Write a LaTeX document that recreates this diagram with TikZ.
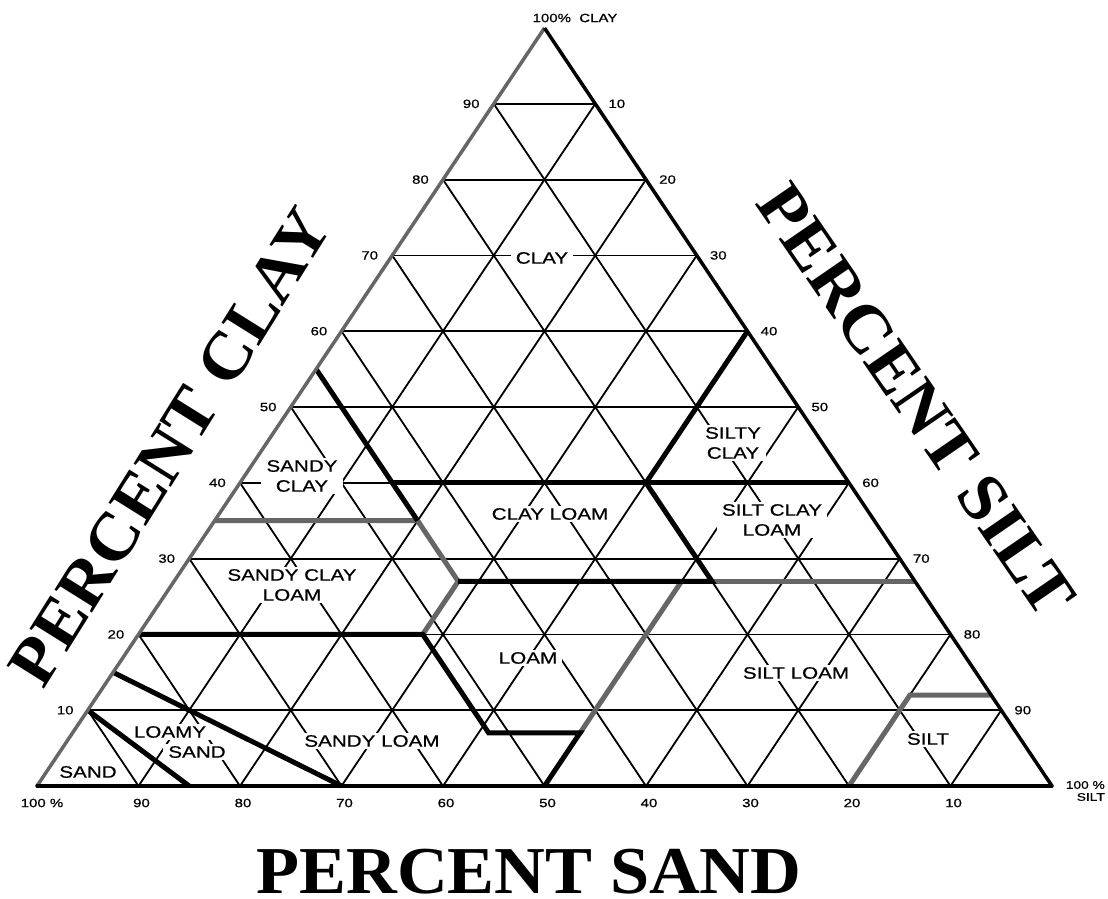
\documentclass[tikz,border=0pt]{standalone}
\usepackage{fontspec}
\newfontfamily\labfont{Liberation Sans}[FakeStretch=1.25,FakeBold=0.6]
\newfontfamily\titlefont{Liberation Serif}[FakeStretch=1.05]
\definecolor{bgray}{gray}{0.4}
\tikzset{
  gridline/.style={line width=1.8pt, black},
  bnd/.style={line width=5pt, black},
  gbnd/.style={line width=5pt, bgray},
  region/.style={font=\labfont\fontsize{16.5}{20}\selectfont, fill=white, inner xsep=5pt, inner ysep=2pt, align=center},
  num/.style={font=\labfont\fontsize{12}{14}\selectfont, inner sep=0pt},
  tlabel/.style={font=\titlefont\bfseries\fontsize{67}{70}\selectfont, inner sep=0pt},
  tern/.style={shift={(37,786)}, x={(10.15pt,0pt)}, y={(5.075pt,7.58pt)}}
}
\begin{document}
\begin{tikzpicture}[x=1pt, y=-1pt]
\fill[white] (0,0) rectangle (1108,899);
\useasboundingbox (0,0) rectangle (1108,899);
% grid (silt t, clay c)
\begin{scope}[tern]
  \foreach \c in {10,20,...,90} \draw[gridline] (0,\c) -- ({100-\c},\c);
  \foreach \s in {10,20,...,90} \draw[gridline] ({100-\s},0) -- (0,{100-\s});
  \foreach \t in {10,20,...,90} \draw[gridline] (\t,0) -- (\t,{100-\t});
\end{scope}
% axis numbers
\foreach \c in {10,20,...,90}
  \node[num, anchor=east] (cl\c) at ({37+\c*5.075-14},{786-\c*7.58}) {\c};
\foreach \c [evaluate=\c as \sv using int(100-\c)] in {10,20,...,90}
  \node[num, anchor=west] (si\c) at ({37+(100-\c/2)*10.15+13},{786-\c*7.58}) {\sv};
\foreach \s in {90,80,...,10}
  \node[num] (sa\s) at ({37+(100-\s)*10.15+3},803) {\s};
\node[num] (sa100) at (42,803) {100 \%};
\node[num] (topclay) at (575,18) {100\%\ \ CLAY};
\node[num, anchor=east, align=right, font=\labfont\fontsize{11}{12}\selectfont] (rsilt) at (1105,791) {100 \%\\SILT};
% region labels
\node[region] (rclay) at (542,258) {CLAY};
\node[region] (rsiltyclay) at (733,443) {SILTY\\CLAY};
\node[region] (rsandyclay) at (302,476) {SANDY\\CLAY};
\node[region] (rclayloam) at (550,514) {CLAY LOAM};
\node[region] (rsiltclayloam) at (772,520) {SILT CLAY\\LOAM};
\node[region] (rscl) at (292,585) {SANDY CLAY\\LOAM};
\node[region] (rloam) at (528,658) {LOAM};
\node[region] (rsiltloam) at (796,673) {SILT LOAM};
\node[region] (rloamysand) at (197,752) {SAND};
\node[region] (rloamy) at (170,732) {LOAMY};
\node[region] (rsandyloam) at (372,741) {SANDY LOAM};
\node[region] (rsand) at (88,772) {SAND};
\node[region] (rsilt) at (928,739) {SILT};
% boundaries
\begin{scope}[tern]
  \draw[bnd] (0,10) -- (15,0);
  \draw[bnd] (0,15) -- (30,0);
  \draw[gbnd] (0,35) -- (20,35) -- (28,27) -- (28,20);
  \draw[gbnd] (53,27) -- (73,27);
  \draw[gbnd] (50,27) -- (50,7);
  \draw[gbnd] (80,0) -- (80,12) -- (88,12);
  \draw[bnd] (0,20) -- (28,20) -- (41,7) -- (50,7) -- (50,0);
  \draw[bnd] (0,55) -- (20,35);
  \draw[bnd] (15,40) -- (60,40);
  \draw[bnd] (28,27) -- (53,27) -- (40,40) -- (40,60);
  % outer triangle
  \draw[line width=3.5pt, bgray] (0,0) -- (0,100);
  \draw[line width=3.5pt, black] (0,100) -- (100,0);
  \draw[line width=3.5pt, black, line cap=round] (0,0) -- (100,0);
\end{scope}
% titles
\node[tlabel, rotate=58] (tclay) at (170,447) {PERCENT CLAY};
\node[tlabel, rotate=-55.5] (tsilt) at (916,400) {PERCENT SILT};
\node[tlabel, anchor=base] (tsand) at (529,893) {PERCENT SAND};
\end{tikzpicture}
\end{document}
